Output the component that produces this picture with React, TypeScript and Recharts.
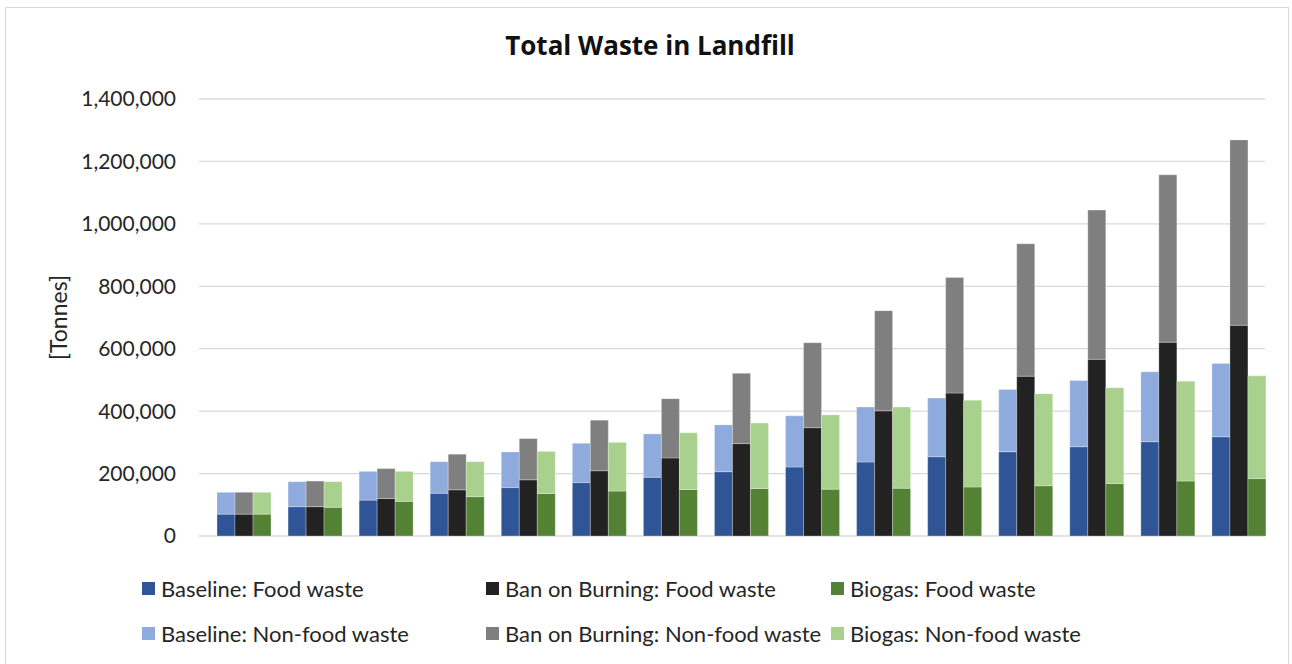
import React from 'react';
import { BarChart, Bar, XAxis, YAxis, CartesianGrid, Legend, Label } from 'recharts';

const categories = ['1', '2', '3', '4', '5', '6', '7', '8', '9', '10', '11', '12', '13', '14', '15'];

const baselineFood = [70000, 94000, 115000, 137000, 155000, 171000, 188000, 206000, 221000, 237000, 254000, 270000, 286000, 302000, 318000];
const baselineNonFood = [70000, 80000, 92000, 101000, 114000, 126000, 139000, 150000, 164000, 176000, 188000, 199000, 212000, 224000, 235000];
const banFood = [70000, 94000, 120000, 148000, 180000, 209000, 250000, 296000, 347000, 401000, 458000, 512000, 566000, 621000, 675000];
const banNonFood = [70000, 82000, 96000, 114000, 132000, 162000, 190000, 225000, 272000, 321000, 370000, 424000, 478000, 536000, 594000];
const biogasFood = [70000, 92000, 111000, 126000, 136000, 144000, 149000, 152000, 150000, 153000, 157000, 161000, 168000, 176000, 184000];
const biogasNonFood = [70000, 82000, 96000, 112000, 135000, 156000, 182000, 210000, 238000, 260000, 278000, 295000, 307000, 320000, 329000];

const yTicks = [0, 200000, 400000, 600000, 800000, 1000000, 1200000, 1400000];

const series = [
  { key: 'baselineFood', name: 'Baseline: Food waste', stack: 'baseline', color: '#2F5597', values: baselineFood },
  { key: 'baselineNonFood', name: 'Baseline: Non-food waste', stack: 'baseline', color: '#8FAADC', values: baselineNonFood },
  { key: 'banFood', name: 'Ban on Burning: Food waste', stack: 'ban', color: '#222222', values: banFood },
  { key: 'banNonFood', name: 'Ban on Burning: Non-food waste', stack: 'ban', color: '#7F7F7F', values: banNonFood },
  { key: 'biogasFood', name: 'Biogas: Food waste', stack: 'biogas', color: '#548235', values: biogasFood },
  { key: 'biogasNonFood', name: 'Biogas: Non-food waste', stack: 'biogas', color: '#A9D18E', values: biogasNonFood },
];

const data = categories.map((c, i) => {
  const row: Record<string, any> = { category: c };
  series.forEach((s) => {
    row[s.key] = s.values[i];
  });
  return row;
});

// legend layout: row 1 = food, row 2 = non-food; columns = scenarios
const legendRows = [
  [series[0], series[2], series[4]],
  [series[1], series[3], series[5]],
];
const legendColLeft = [142, 486, 831];

const FONT = 'Lato, "Open Sans", sans-serif';
const TEXT = '#262626';

const fmt = (v: number) => v.toLocaleString('en-US');

const LegendContent = () => (
  <div style={{ position: 'relative', width: 1292, height: 90, fontFamily: FONT, fontSize: 22, color: TEXT }}>
    {legendRows.map((row, r) =>
      row.map((s, c) => (
        <div
          key={s.key}
          style={{
            position: 'absolute',
            left: legendColLeft[c],
            top: r * 45,
            display: 'flex',
            alignItems: 'center',
            whiteSpace: 'nowrap',
            height: 26,
          }}
        >
          <span style={{ display: 'inline-block', width: 13, height: 13, background: s.color, marginRight: 6 }} />
          <span>{s.name}</span>
        </div>
      ))
    )}
  </div>
);

const YLabel = (props: any) => {
  const vb = props.viewBox || {};
  const cx = 58;
  const cy = (vb.y ?? 99) + (vb.height ?? 437) / 2;
  return (
    <text
      x={cx}
      y={cy}
      transform={`rotate(-90, ${cx}, ${cy})`}
      textAnchor="middle"
      dominantBaseline="central"
      fontFamily={FONT}
      fontSize={23}
      fill={TEXT}
    >
      [Tonnes]
    </text>
  );
};

export default function App() {
  return (
    <div style={{ position: 'absolute', left: 0, top: 0, width: 1292, height: 664, overflow: 'hidden', background: '#fff' }}>
      <div
        style={{
          position: 'absolute',
          left: 5,
          top: 7,
          width: 1284,
          height: 720,
          border: '1px solid #D9D9D9',
          boxSizing: 'border-box',
        }}
      />
      <div
        style={{
          position: 'absolute',
          left: 0,
          top: 27,
          width: 1300,
          textAlign: 'center',
          fontFamily: '"Open Sans", Lato, sans-serif',
          fontWeight: 700,
          fontSize: 26,
          color: '#111',
        }}
      >
        Total Waste in Landfill
      </div>
      <div style={{ position: 'absolute', left: 0, top: 0 }}>
        <BarChart
          width={1292}
          height={664}
          data={data}
          margin={{ top: 99, right: 27, bottom: 128, left: 0 }}
          barCategoryGap={0}
          barGap={0}
        >
          <CartesianGrid horizontal vertical={false} stroke="#D9D9D9" strokeWidth={1.3} />
          <XAxis dataKey="category" hide />
          <YAxis
            width={199}
            domain={[0, 1400000]}
            ticks={yTicks}
            tickFormatter={fmt}
            axisLine={false}
            tickLine={false}
            tickSize={6}
            tickMargin={17}
            tick={{ fontFamily: FONT, fontSize: 21, fill: TEXT }}
            interval={0}
          >
            <Label content={<YLabel />} />
          </YAxis>
          <Legend
            layout="horizontal"
            verticalAlign="middle"
            align="center"
            wrapperStyle={{ left: 0, top: 575, width: 1292, height: 90 }}
            content={<LegendContent />}
          />
          {/* empty leading slot, as in the original clustered-stacked layout */}
          <Bar dataKey="spacer" stackId="spacer" fill="none" isAnimationActive={false} legendType="none" />
          {series.map((s) => (
            <Bar
              key={s.key}
              dataKey={s.key}
              name={s.name}
              stackId={s.stack}
              fill={s.color}
              stroke="#ffffff"
              strokeOpacity={0.35}
              strokeWidth={0.8}
              isAnimationActive={false}
            />
          ))}
        </BarChart>
      </div>
    </div>
  );
}
